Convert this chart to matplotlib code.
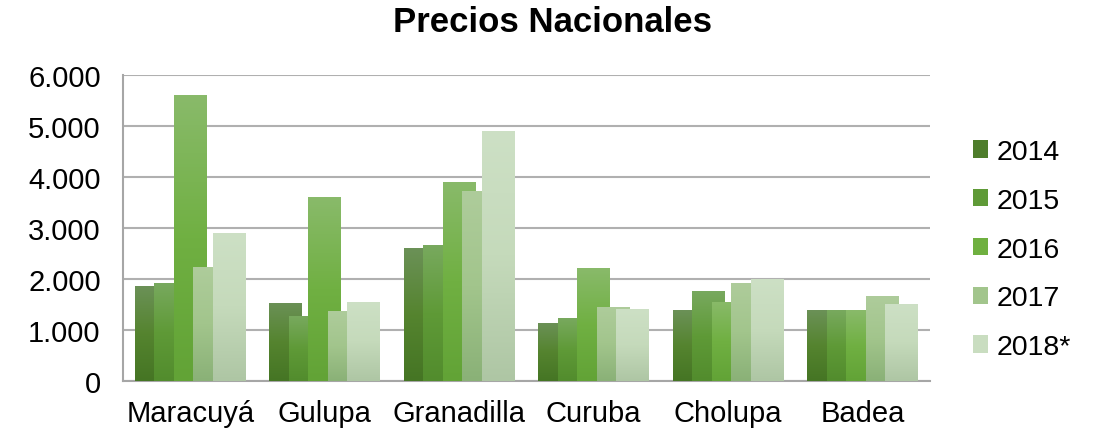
import numpy as np
import matplotlib
matplotlib.use("Agg")
import matplotlib.pyplot as plt
from matplotlib.patches import Patch
from matplotlib.colors import LinearSegmentedColormap
from matplotlib.ticker import FuncFormatter, MultipleLocator

plt.rcParams['font.family'] = ['Liberation Sans', 'DejaVu Sans']

frutas = ['Maracuyá', 'Gulupa', 'Granadilla', 'Curuba', 'Cholupa', 'Badea']
anios = ['2014', '2015', '2016', '2017', '2018*']
p2014 = [1860, 1530, 2600, 1140, 1390, 1390]
p2015 = [1920, 1270, 2660, 1230, 1760, 1390]
p2016 = [5600, 3600, 3900, 2210, 1550, 1390]
p2017 = [2230, 1370, 3720, 1450, 1920, 1665]
p2018 = [2900, 1550, 4900, 1410, 2000, 1510]
series = [p2014, p2015, p2016, p2017, p2018]

# top, middle, bottom colour of each series' gradient
grad = [
    ('#6b9157', '#55842f', '#457524'),
    ('#78a95e', '#5f9a37', '#528c2d'),
    ('#89ba6a', '#70b042', '#62a336'),
    ('#aecc9b', '#a2c58c', '#8ab177'),
    ('#cde0c5', '#c5dabb', '#aec6a4'),
]
legend_col = ['#4e7d2b', '#5f9a37', '#6fb040', '#a2c58c', '#c9ddc0']

fig = plt.figure(figsize=(10.96, 4.35), dpi=100)
ax = fig.add_axes([0.1122, 0.1218, 0.7363, 0.7040])

x = np.arange(len(frutas))
step = 0.145
width = 0.245
grad_img = np.linspace(0, 1, 128).reshape(-1, 1)

for i, vals in enumerate(series):
    z = 3 + i
    bars = ax.bar(x + (i - 2) * step, vals, width, facecolor='none',
                  edgecolor='none', zorder=z)
    cmap = LinearSegmentedColormap.from_list('g%d' % i, list(grad[i]))
    for b in bars:
        x0, y0 = b.get_x(), b.get_y()
        im = ax.imshow(grad_img, cmap=cmap, aspect='auto', origin='upper',
                       extent=[x0, x0 + b.get_width(), y0, y0 + b.get_height()],
                       zorder=z, interpolation='bilinear')
        im.set_clip_path(b)

ax.set_xlim(-0.5, len(frutas) - 0.5)
ax.set_ylim(0, 6000)
ax.yaxis.set_major_locator(MultipleLocator(1000))
ax.yaxis.set_major_formatter(FuncFormatter(lambda v, p: f'{int(v):,}'.replace(',', '.')))
ax.set_xticks(x)
ax.set_xticklabels(frutas)
ax.tick_params(axis='both', length=0, labelsize=21, colors='black')
ax.tick_params(axis='x', pad=13)
ax.tick_params(axis='y', pad=16)

ax.grid(axis='y', color='#b0b0b0', linewidth=1.5, zorder=1)
ax.set_axisbelow(True)
for s in ['top', 'right']:
    ax.spines[s].set_visible(False)
for s in ['left', 'bottom']:
    ax.spines[s].set_color('#a6a6a6')
    ax.spines[s].set_linewidth(1.5)

fig.text(0.504, 0.949, 'Precios Nacionales', ha='center', va='center',
         fontsize=25, fontweight='bold')

handles = [Patch(facecolor=c, edgecolor='none') for c in legend_col]
fig.legend(handles, anios, loc='center left', bbox_to_anchor=(0.877, 0.424),
           frameon=False, fontsize=20.5, handlelength=0.55, handleheight=0.55,
           handletextpad=0.3, labelspacing=0.8, borderaxespad=0)

fig.savefig('out.png', dpi=100)
